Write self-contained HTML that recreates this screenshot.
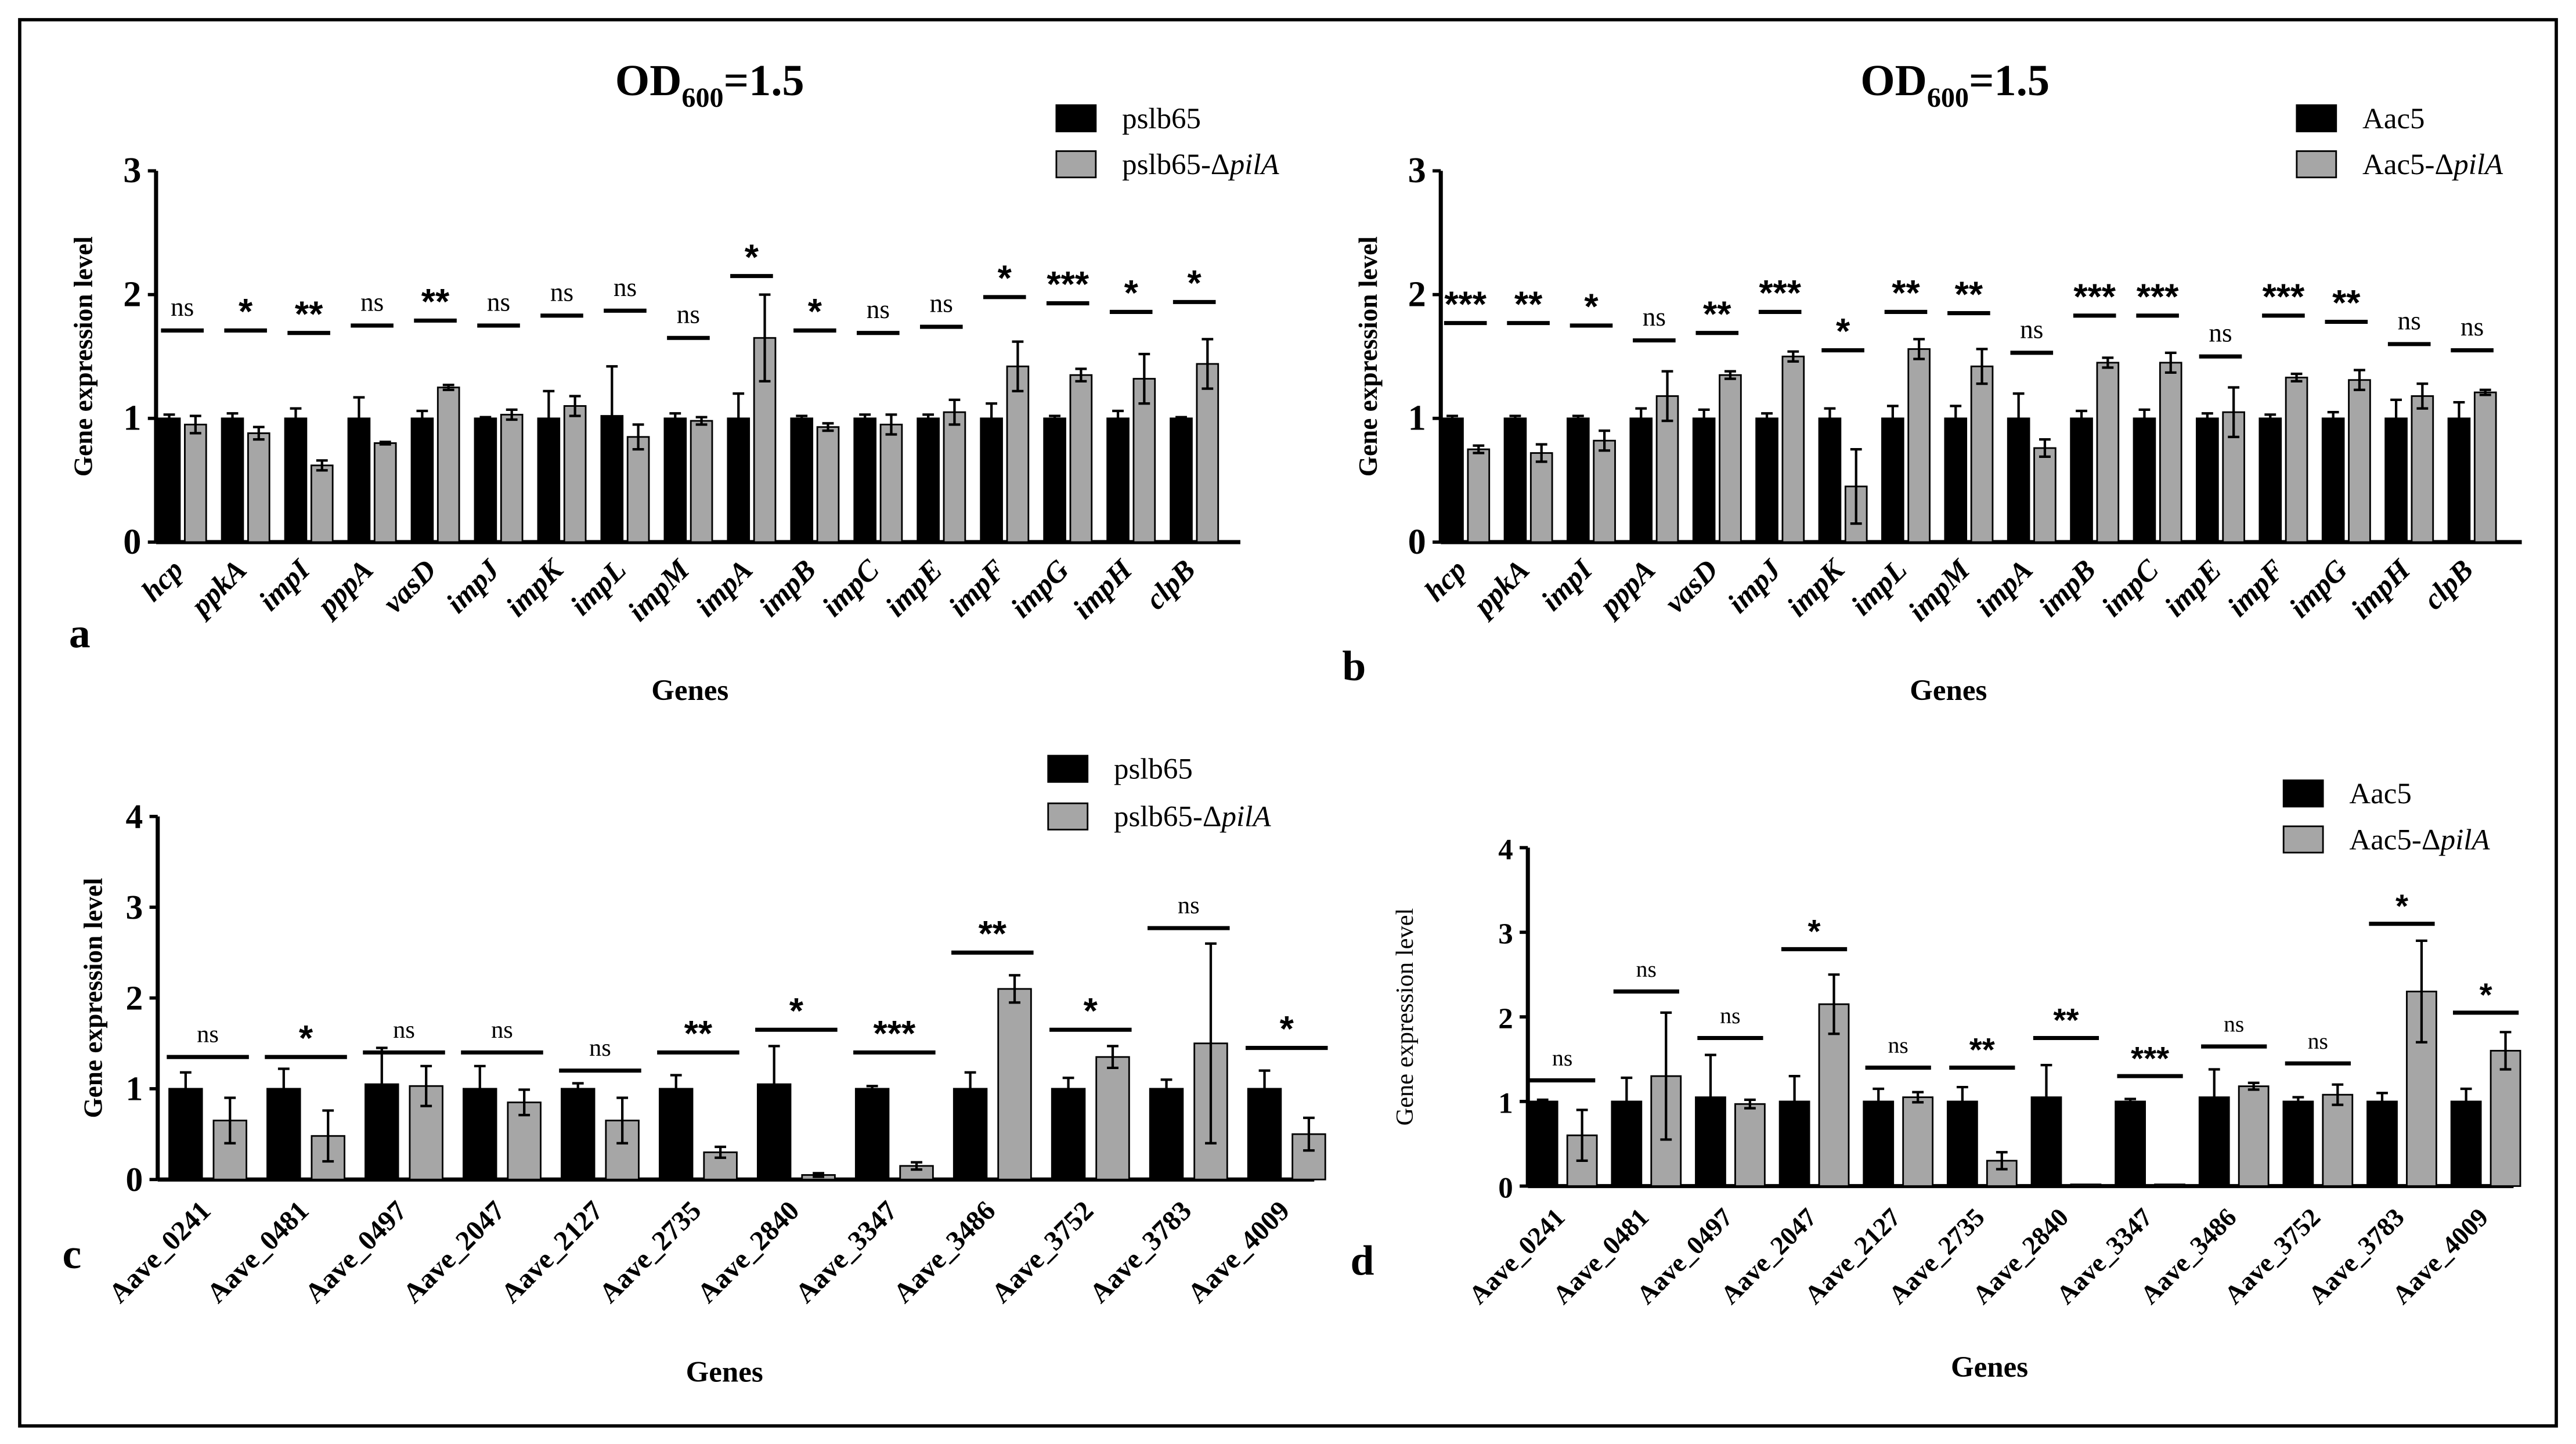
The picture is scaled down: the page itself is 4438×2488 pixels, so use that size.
<!DOCTYPE html>
<html><head><meta charset="utf-8"><style>
html,body{margin:0;padding:0;background:#fff;}
svg{display:block;font-family:"Liberation Serif",serif;}
</style></head><body>
<svg id="root" width="4438" height="2488" viewBox="0 0 1568 879" preserveAspectRatio="none" xmlns="http://www.w3.org/2000/svg" font-family="Liberation Serif, serif">
<rect x="12" y="12" width="1544" height="856" fill="#fff" stroke="#000" stroke-width="2"/>
</svg>
<script>
const NS='http://www.w3.org/2000/svg';
const root=document.getElementById('root');
const SERIF='Liberation Serif, serif';
function mk(tag,attrs,parent,txt){const e=document.createElementNS(NS,tag);for(const k in attrs)e.setAttribute(k,attrs[k]);if(tag==='text'&&!attrs['font-family'])e.setAttribute('font-family',SERIF);if(txt!==undefined)e.textContent=txt;(parent||root).appendChild(e);return e;}

// ---- data ----
const genesAB=['hcp','ppkA','impI','pppA','vasD','impJ','impK','impL','impM','impA','impB','impC','impE','impF','impG','impH','clpB'];
const aBlack=[1,1,1,1,1,1,1,1.02,1,1,1,1,1,1,1,1,1];
const aBlackErr=[.03,.04,.08,.17,.06,.01,.22,.4,.04,.2,.02,.03,.03,.12,.02,.06,.01];
const aGray=[.95,.88,.62,.8,1.25,1.03,1.1,.85,.98,1.65,.93,.95,1.05,1.42,1.35,1.32,1.44];
const aGrayErr=[.07,.05,.04,.01,.02,.04,.08,.1,.03,.35,.03,.08,.1,.2,.05,.2,.2];
const aSig=['ns','*','**','ns','**','ns','ns','ns','ns','*','*','ns','ns','*','***','*','*'];
const aSigLevel=[1.71,1.71,1.69,1.75,1.79,1.75,1.83,1.87,1.65,2.15,1.71,1.69,1.74,1.98,1.93,1.86,1.94];

const bBlack=[1,1,1,1,1,1,1,1,1,1,1,1,1,1,1,1,1];
const bBlackErr=[.02,.02,.02,.08,.07,.04,.08,.1,.1,.2,.06,.07,.04,.03,.05,.15,.13];
const bGray=[.75,.72,.82,1.18,1.35,1.5,.45,1.56,1.42,.76,1.45,1.45,1.05,1.33,1.31,1.18,1.21];
const bGrayErr=[.03,.07,.08,.2,.03,.04,.3,.08,.14,.07,.04,.08,.2,.03,.08,.1,.02];
const bSig=['***','**','*','ns','**','***','*','**','**','ns','***','***','ns','***','**','ns','ns'];
const bSigLevel=[1.77,1.77,1.75,1.63,1.69,1.86,1.55,1.86,1.85,1.53,1.83,1.83,1.5,1.83,1.78,1.6,1.55];

const genesCD=['Aave_0241','Aave_0481','Aave_0497','Aave_2047','Aave_2127','Aave_2735','Aave_2840','Aave_3347','Aave_3486','Aave_3752','Aave_3783','Aave_4009'];
const cBlack=[1,1,1.05,1,1,1,1.05,1,1,1,1,1];
const cBlackErr=[.18,.22,.4,.25,.06,.15,.42,.03,.18,.12,.1,.2];
const cGray=[.65,.48,1.03,.85,.65,.3,.05,.15,2.1,1.35,1.5,.5];
const cGrayErr=[.25,.28,.22,.14,.25,.06,.02,.04,.15,.12,1.1,.18];
const cSig=['ns','*','ns','ns','ns','**','*','***','**','*','ns','*'];
const cSigLevel=[1.35,1.35,1.4,1.4,1.2,1.4,1.65,1.4,2.5,1.65,2.77,1.45];

const dBlack=[1,1,1.05,1,1,1,1.05,1,1.05,1,1,1];
const dBlackErr=[.02,.28,.5,.3,.15,.17,.38,.03,.33,.05,.1,.15];
const dGray=[.6,1.3,.97,2.15,1.05,.3,.02,.02,1.18,1.08,2.3,1.6];
const dGrayErr=[.3,.75,.05,.35,.06,.1,0,0,.04,.12,.6,.22];
const dSig=['ns','ns','ns','*','ns','**','**','***','ns','ns','*','*'];
const dSigLevel=[1.25,2.3,1.75,2.8,1.4,1.4,1.75,1.3,1.65,1.45,3.1,2.05];

const ticksAB=[0,1,2,3];
const ticksCD=[0,1,2,3,4];

function panel(o){
  const g=mk('g',{});
  const y=v=>o.y0-(v/o.ymax)*(o.y0-o.ytop);
  const x=i=>o.x1+i*o.step;
  const ax=mk('line',{x1:o.ax,y1:o.ytop,x2:o.ax,y2:o.y0,stroke:'#000','stroke-width':2.5},g);
  
  const xx=mk('line',{x1:o.ax,y1:o.y0,x2:o.xend,y2:o.y0,stroke:'#000','stroke-width':2.5},g);
  
  o.ticks.forEach(t=>{
    mk('line',{x1:o.ax-5,y1:y(t),x2:o.ax,y2:y(t),stroke:'#000','stroke-width':2},g);
    const tl=mk('text',{x:o.ax-9,y:y(t)+7,'text-anchor':'end','font-size':o.tickFs,'font-weight':'bold'},g,String(t));
    
  });
  o.genes.forEach((gn,i)=>{
    const xb=x(i), xg=x(i)+o.gap;
    [[xb,o.black[i],o.berr[i],'#000','black'],[xg,o.gray[i],o.gerr[i],'#a6a6a6','gray']].forEach(([cx,v,e,f,s])=>{
      const r=mk('rect',{x:cx-o.bw/2,y:y(v),width:o.bw,height:o.y0-y(v),fill:f,stroke:'#000','stroke-width':1},g);
      
      if(e>0){
        mk('line',{x1:cx,y1:y(v+e),x2:cx,y2:y(v),stroke:'#000','stroke-width':1.5},g);
        mk('line',{x1:cx-3.5,y1:y(v+e),x2:cx+3.5,y2:y(v+e),stroke:'#000','stroke-width':1.5},g);
        if(s==='gray'||v-e>0){mk('line',{x1:cx,y1:y(v),x2:cx,y2:y(Math.max(v-e,0)),stroke:'#000','stroke-width':1.5},g);
        mk('line',{x1:cx-3.5,y1:y(Math.max(v-e,0)),x2:cx+3.5,y2:y(Math.max(v-e,0)),stroke:'#000','stroke-width':1.5},g);}
      }
    });
    const mx=(xb+xg)/2, ly=y(o.sigLevel[i]);
    const sl=mk('line',{x1:mx-o.sigW/2,y1:ly,x2:mx+o.sigW/2,y2:ly,stroke:'#000','stroke-width':2.5},g);
    
    const isNs=o.sig[i]==='ns';
    const st=mk('text',{x:mx,y:isNs?ly-9:ly-4,'text-anchor':'middle','font-size':isNs?o.nsFs:o.starFs,'font-weight':isNs?'normal':'bold','font-family':isNs?SERIF:'Liberation Sans, sans-serif'},g,o.sig[i]);
    
    const lx=xb+o.gap*0.6, lyy=o.y0+o.labOff;
    const gl=mk('text',{x:lx,y:lyy,'text-anchor':'end','font-size':o.labFs,'font-weight':'bold','font-style':o.italic?'italic':'normal',transform:`rotate(-45 ${lx} ${lyy})`},g,gn);
    
  });
  const yt=mk('text',{x:o.ytx,y:(o.y0+o.ytop)/2,'text-anchor':'middle','font-size':o.ytFs,'font-weight':o.ytBold?'bold':'normal',transform:`rotate(-90 ${o.ytx} ${(o.y0+o.ytop)/2})`},g,'Gene expression level');
  
  const xt=mk('text',{x:o.xtx,y:o.xty,'text-anchor':'middle','font-size':18,'font-weight':'bold'},g,'Genes');
  
  const pl=mk('text',{x:o.letter[0],y:o.letter[1],'font-size':26,'font-weight':'bold'},g,o.letter[2]);
  
  if(o.title){const t=mk('text',{x:o.title[0],y:o.title[1],'text-anchor':'middle','font-size':27,'font-weight':'bold'},g);
    
    mk('tspan',{},t,'OD');mk('tspan',{'font-size':17,dy:7},t,'600');mk('tspan',{dy:-7},t,'=1.5');}
  const L=o.legend;
  [[0,'#000',L[2]],[1,'#a6a6a6',L[3]]].forEach(([k,f,lab])=>{
    const ly2=L[1]+k*L[4];
    const r=mk('rect',{x:L[0],y:ly2-8,width:24,height:16,fill:f,stroke:'#000','stroke-width':1},g);
    
    const t=mk('text',{x:L[0]+40,y:ly2+6,'font-size':18},g);
    
    if(k===0)t.textContent=lab;else{mk('tspan',{},t,lab+'-Δ');mk('tspan',{'font-style':'italic'},t,'pilA');}
  });
}
panel({name:'panel-a',genes:genesAB,black:aBlack,berr:aBlackErr,gray:aGray,gerr:aGrayErr,sig:aSig,sigLevel:aSigLevel,
  ax:95,xend:755,y0:330,ytop:104,ymax:3,ticks:ticksAB,x1:103,step:38.5,gap:16,bw:13,sigW:26,tickFs:22,nsFs:16,starFs:22,labFs:18,italic:true,labOff:18,
  ytx:56,ytFs:16,ytBold:true,xtx:420,xty:426,letter:[42,394,'a'],title:[432,58],legend:[643,72,'pslb65','pslb65',28]});
panel({name:'panel-b',genes:genesAB,black:bBlack,berr:bBlackErr,gray:bGray,gerr:bGrayErr,sig:bSig,sigLevel:bSigLevel,
  ax:877,xend:1535,y0:330,ytop:104,ymax:3,ticks:ticksAB,x1:884,step:38.3,gap:16,bw:13,sigW:26,tickFs:22,nsFs:16,starFs:22,labFs:18,italic:true,labOff:18,
  ytx:838,ytFs:16,ytBold:true,xtx:1186,xty:426,letter:[817,414,'b'],title:[1190,58],legend:[1398,72,'Aac5','Aac5',28]});
panel({name:'panel-c',genes:genesCD,black:cBlack,berr:cBlackErr,gray:cGray,gerr:cGrayErr,sig:cSig,sigLevel:cSigLevel,
  ax:96,xend:800,y0:718,ytop:497,ymax:4,ticks:ticksCD,x1:113,step:59.7,gap:27,bw:20,sigW:50,tickFs:21,nsFs:15,starFs:22,labFs:17,italic:false,labOff:20,
  ytx:62,ytFs:16,ytBold:true,xtx:441,xty:841,letter:[38,772,'c'],legend:[638,468,'pslb65','pslb65',29]});
panel({name:'panel-d',genes:genesCD,black:dBlack,berr:dBlackErr,gray:dGray,gerr:dGrayErr,sig:dSig,sigLevel:dSigLevel,
  ax:930,xend:1530,y0:722,ytop:516,ymax:4,ticks:ticksCD,x1:939,step:51.1,gap:24,bw:18,sigW:40,tickFs:18,nsFs:14,starFs:20,labFs:16,italic:false,labOff:20,
  ytx:860,ytFs:15,ytBold:false,xtx:1211,xty:838,letter:[822,776,'d'],legend:[1390,483,'Aac5','Aac5',28]});
</script>
</body></html>
